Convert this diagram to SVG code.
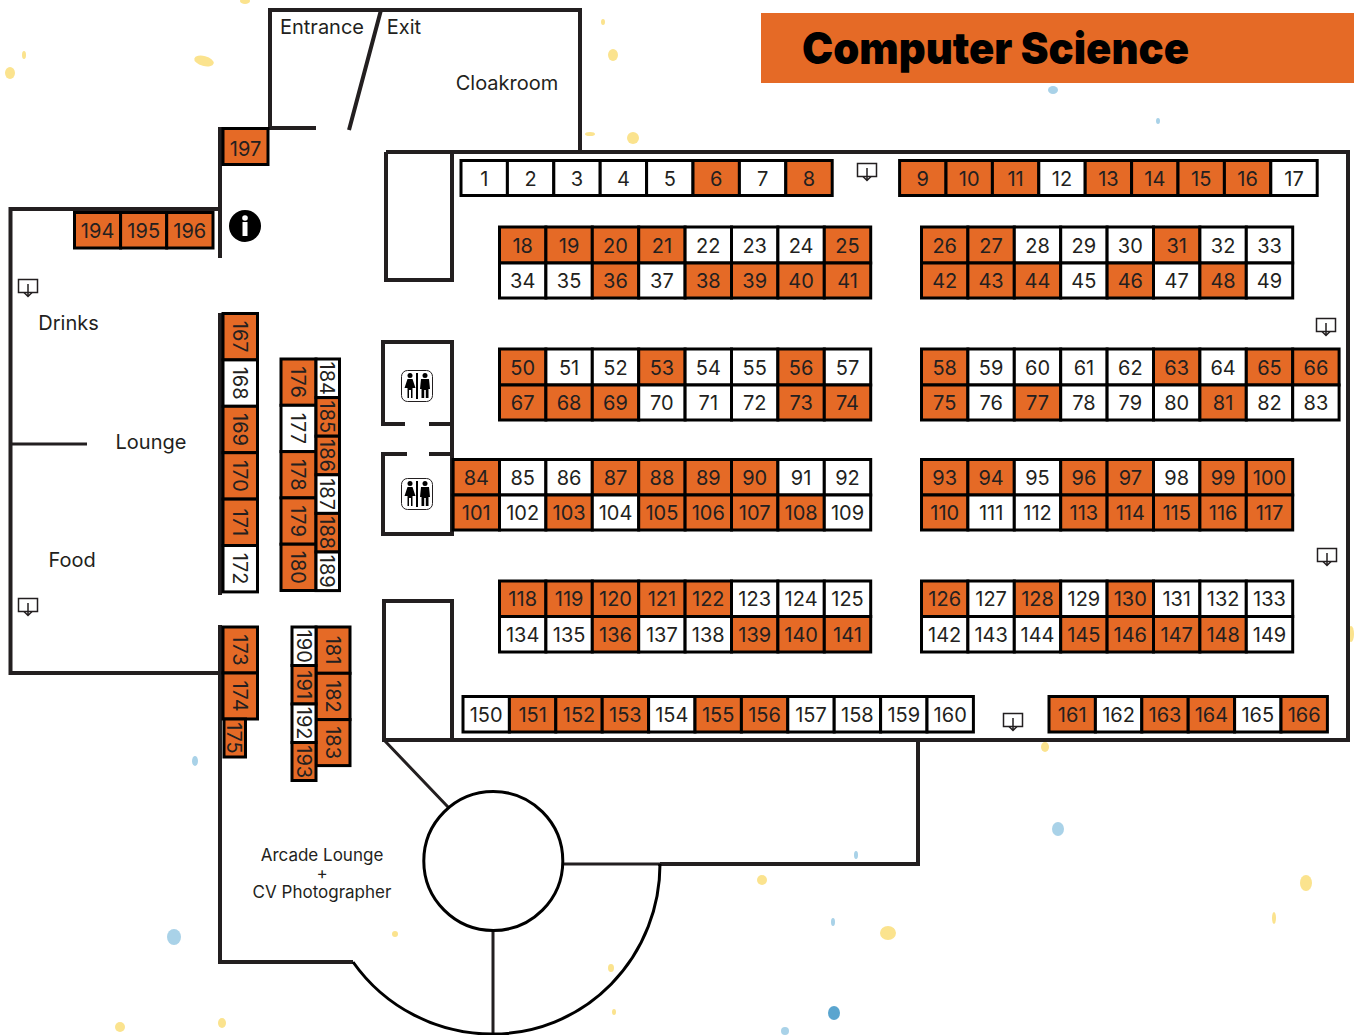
<svg xmlns="http://www.w3.org/2000/svg" xmlns:xlink="http://www.w3.org/1999/xlink" width="1354" height="1035" viewBox="0 0 1354 1035">
<style>
text{font-family:"Inter","Liberation Sans",sans-serif;fill:#231f20;text-anchor:middle;font-size:20px}
.o,.w{stroke:#000;stroke-width:3}
.o{fill:#e56a26}.w{fill:#fff}
.wall,.thin{fill:none;stroke:#231f20;stroke-width:4}
.thin{stroke-width:3}
.y{fill:#fbe38e}.b{fill:#a9d2e8}
.lab{font-size:20px}
.sm{font-size:17px}
.title{font-family:"Inter","Roboto",sans-serif;font-weight:900;font-size:44px;fill:#000}
.k{fill:#fff;stroke:#231f20;stroke-width:1.5}
</style>
<defs>
<g id="kiosk"><path class="k" d="M-9.500-7.500H9.500V5.500H-9.500Z"/><path d="M0-3V9M-4 5.500L0 9.500L4 5.500" fill="none" stroke="#231f20" stroke-width="1.500"/></g>
<g id="wc">
<rect x="-15.500" y="-15.500" width="31" height="31" rx="6" fill="#fff" stroke="#231f20"/>
<rect x="-1" y="-13" width="2" height="26" fill="#000"/>
<circle cx="-7" cy="-10.500" r="2.500"/><path d="M-9.500-7H-4.500L-1.500 2H-4.500V12H-6V4H-8V12H-9.500V2H-12.500Z"/>
<circle cx="8" cy="-10.500" r="2.500"/><path d="M4-7H12L13 3H11.500V12H8.800V4H7.200V12H4.500V3H3Z"/>
</g>
</defs>
<g id="confetti">
<ellipse class="y" cx="204" cy="61" rx="10" ry="5" transform="rotate(15 204 61)"/><ellipse class="y" cx="10" cy="73" rx="5" ry="6"/><ellipse class="y" cx="24" cy="55" rx="2" ry="4"/><ellipse class="y" cx="245" cy="1" rx="5" ry="3"/><ellipse class="y" cx="613" cy="55" rx="5" ry="6"/><ellipse class="y" cx="633" cy="138" rx="6" ry="6"/><ellipse class="y" cx="590" cy="134" rx="5" ry="2"/><ellipse class="y" cx="603" cy="22" rx="2" ry="3"/><ellipse class="b" cx="1053" cy="90" rx="5" ry="4"/><ellipse class="b" cx="1158" cy="121" rx="2" ry="3"/><ellipse class="b" cx="1058" cy="829" rx="6" ry="7"/><ellipse class="y" cx="1306" cy="883" rx="6" ry="8"/><ellipse class="y" cx="888" cy="933" rx="8" ry="7"/><ellipse class="y" cx="762" cy="880" rx="5" ry="5"/><ellipse class="b" cx="174" cy="937" rx="7" ry="8"/><ellipse class="b" cx="834" cy="1013" rx="6" ry="7" style="fill:#5aa5cf"/><ellipse class="y" cx="120" cy="1027" rx="5" ry="5"/><ellipse class="y" cx="222" cy="1023" rx="4" ry="5"/><ellipse class="y" cx="1045" cy="747" rx="4" ry="5"/><ellipse class="y" cx="1274" cy="918" rx="2" ry="6"/><ellipse class="b" cx="195" cy="761" rx="3" ry="5"/><ellipse class="b" cx="833" cy="922" rx="2" ry="4"/><ellipse class="y" cx="1351" cy="634" rx="3" ry="8"/><ellipse class="y" cx="614" cy="1012" rx="2" ry="3"/><ellipse class="b" cx="856" cy="855" rx="2" ry="4"/><ellipse class="b" cx="785" cy="1031" rx="4" ry="4"/><ellipse class="y" cx="395" cy="934" rx="3" ry="3"/><ellipse class="y" cx="611" cy="968" rx="3" ry="4"/>
</g>
<rect id="banner" x="761" y="13" width="593" height="70" fill="#e56a26"/>
<text class="title" x="995.500" y="64" textLength="387" lengthAdjust="spacingAndGlyphs">Computer Science</text>
<g id="walls">
<path class="wall" d="M220 127V258M316 128H270V10H580V152M381 10L349 130"/>
<path class="wall" d="M220 209H10.500V673H220M220 313V595M220 625V962H353"/>
<path class="wall" d="M386 152H1348V740H384V601H452V740M386 152V280H452V152"/>
<path class="wall" d="M405 424H383V342H452V534H383V454H407M429 424H452M429 454H452"/>
<path class="wall" d="M660 864V866M918 740V864H660"/>
<path class="thin" d="M10 444H87M384 740L448 807M563 864H660M493 931V1034"/>
<path d="M660 864A167 170 0 0 1 493 1034A170 170 0 0 1 353 962" fill="none" stroke="#000" stroke-width="3"/>
<circle cx="493.300" cy="861" r="69.500" fill="#fff" stroke="#000" stroke-width="3"/>
</g>
<g id="icons">
<g id="info"><circle cx="245" cy="226" r="16" fill="#000"/><circle cx="245" cy="218" r="2.800" fill="#fff"/><rect x="242.500" y="222" width="5" height="14" fill="#fff"/></g>
<g id="wc1"><use href="#wc" xlink:href="#wc" x="417" y="386"/></g>
<g id="wc2"><use href="#wc" xlink:href="#wc" x="417" y="494"/></g>
<g id="k1"><use href="#kiosk" xlink:href="#kiosk" x="28" y="287"/></g>
<g id="k2"><use href="#kiosk" xlink:href="#kiosk" x="867" y="171"/></g>
<g id="k3"><use href="#kiosk" xlink:href="#kiosk" x="1326" y="326"/></g>
<g id="k4"><use href="#kiosk" xlink:href="#kiosk" x="1327" y="556"/></g>
<g id="k5"><use href="#kiosk" xlink:href="#kiosk" x="28" y="606"/></g>
<g id="k6"><use href="#kiosk" xlink:href="#kiosk" x="1013" y="721"/></g>
</g>
<g id="labels">
<text class="lab" x="322" y="34">Entrance</text>
<text class="lab" x="404" y="34">Exit</text>
<text class="lab" x="507" y="90">Cloakroom</text>
<text class="lab" x="68.500" y="330">Drinks</text>
<text class="lab" x="151" y="449">Lounge</text>
<text class="lab" x="72" y="567">Food</text>
<text class="sm" x="322" y="861">Arcade Lounge</text>
<text class="sm" x="322" y="879">+</text>
<text class="sm" x="322" y="898">CV Photographer</text>
</g>
<g id="booths">
<g id="b1"><rect class="w" x="461" y="160.500" width="46.400" height="35"/><text x="484.200" y="185.500">1</text></g>
<g id="b2"><rect class="w" x="507.400" y="160.500" width="46.400" height="35"/><text x="530.600" y="185.500">2</text></g>
<g id="b3"><rect class="w" x="553.800" y="160.500" width="46.400" height="35"/><text x="577" y="185.500">3</text></g>
<g id="b4"><rect class="w" x="600.200" y="160.500" width="46.400" height="35"/><text x="623.400" y="185.500">4</text></g>
<g id="b5"><rect class="w" x="646.600" y="160.500" width="46.400" height="35"/><text x="669.800" y="185.500">5</text></g>
<g id="b6"><rect class="o" x="693" y="160.500" width="46.400" height="35"/><text x="716.200" y="185.500">6</text></g>
<g id="b7"><rect class="w" x="739.400" y="160.500" width="46.400" height="35"/><text x="762.600" y="185.500">7</text></g>
<g id="b8"><rect class="o" x="785.800" y="160.500" width="46.400" height="35"/><text x="809" y="185.500">8</text></g>
<g id="b9"><rect class="o" x="899.600" y="160.500" width="46.400" height="35"/><text x="922.800" y="185.500">9</text></g>
<g id="b10"><rect class="o" x="946" y="160.500" width="46.400" height="35"/><text x="969.200" y="185.500">10</text></g>
<g id="b11"><rect class="o" x="992.400" y="160.500" width="46.400" height="35"/><text x="1015.600" y="185.500">11</text></g>
<g id="b12"><rect class="w" x="1038.800" y="160.500" width="46.400" height="35"/><text x="1062" y="185.500">12</text></g>
<g id="b13"><rect class="o" x="1085.200" y="160.500" width="46.400" height="35"/><text x="1108.400" y="185.500">13</text></g>
<g id="b14"><rect class="o" x="1131.600" y="160.500" width="46.400" height="35"/><text x="1154.800" y="185.500">14</text></g>
<g id="b15"><rect class="o" x="1178" y="160.500" width="46.400" height="35"/><text x="1201.200" y="185.500">15</text></g>
<g id="b16"><rect class="o" x="1224.400" y="160.500" width="46.400" height="35"/><text x="1247.600" y="185.500">16</text></g>
<g id="b17"><rect class="w" x="1270.800" y="160.500" width="46.400" height="35"/><text x="1294" y="185.500">17</text></g>
<g id="b18"><rect class="o" x="499.500" y="227" width="46.400" height="36"/><text x="522.700" y="252.500">18</text></g>
<g id="b19"><rect class="o" x="545.900" y="227" width="46.400" height="36"/><text x="569.100" y="252.500">19</text></g>
<g id="b20"><rect class="o" x="592.300" y="227" width="46.400" height="36"/><text x="615.500" y="252.500">20</text></g>
<g id="b21"><rect class="o" x="638.700" y="227" width="46.400" height="36"/><text x="661.900" y="252.500">21</text></g>
<g id="b22"><rect class="w" x="685.100" y="227" width="46.400" height="36"/><text x="708.300" y="252.500">22</text></g>
<g id="b23"><rect class="w" x="731.500" y="227" width="46.400" height="36"/><text x="754.700" y="252.500">23</text></g>
<g id="b24"><rect class="w" x="777.900" y="227" width="46.400" height="36"/><text x="801.100" y="252.500">24</text></g>
<g id="b25"><rect class="o" x="824.300" y="227" width="46.400" height="36"/><text x="847.500" y="252.500">25</text></g>
<g id="b26"><rect class="o" x="921.500" y="227" width="46.400" height="36"/><text x="944.700" y="252.500">26</text></g>
<g id="b27"><rect class="o" x="967.900" y="227" width="46.400" height="36"/><text x="991.100" y="252.500">27</text></g>
<g id="b28"><rect class="w" x="1014.300" y="227" width="46.400" height="36"/><text x="1037.500" y="252.500">28</text></g>
<g id="b29"><rect class="w" x="1060.700" y="227" width="46.400" height="36"/><text x="1083.900" y="252.500">29</text></g>
<g id="b30"><rect class="w" x="1107.100" y="227" width="46.400" height="36"/><text x="1130.300" y="252.500">30</text></g>
<g id="b31"><rect class="o" x="1153.500" y="227" width="46.400" height="36"/><text x="1176.700" y="252.500">31</text></g>
<g id="b32"><rect class="w" x="1199.900" y="227" width="46.400" height="36"/><text x="1223.100" y="252.500">32</text></g>
<g id="b33"><rect class="w" x="1246.300" y="227" width="46.400" height="36"/><text x="1269.500" y="252.500">33</text></g>
<g id="b34"><rect class="w" x="499.500" y="263" width="46.400" height="35"/><text x="522.700" y="288">34</text></g>
<g id="b35"><rect class="w" x="545.900" y="263" width="46.400" height="35"/><text x="569.100" y="288">35</text></g>
<g id="b36"><rect class="o" x="592.300" y="263" width="46.400" height="35"/><text x="615.500" y="288">36</text></g>
<g id="b37"><rect class="w" x="638.700" y="263" width="46.400" height="35"/><text x="661.900" y="288">37</text></g>
<g id="b38"><rect class="o" x="685.100" y="263" width="46.400" height="35"/><text x="708.300" y="288">38</text></g>
<g id="b39"><rect class="o" x="731.500" y="263" width="46.400" height="35"/><text x="754.700" y="288">39</text></g>
<g id="b40"><rect class="o" x="777.900" y="263" width="46.400" height="35"/><text x="801.100" y="288">40</text></g>
<g id="b41"><rect class="o" x="824.300" y="263" width="46.400" height="35"/><text x="847.500" y="288">41</text></g>
<g id="b42"><rect class="o" x="921.500" y="263" width="46.400" height="35"/><text x="944.700" y="288">42</text></g>
<g id="b43"><rect class="o" x="967.900" y="263" width="46.400" height="35"/><text x="991.100" y="288">43</text></g>
<g id="b44"><rect class="o" x="1014.300" y="263" width="46.400" height="35"/><text x="1037.500" y="288">44</text></g>
<g id="b45"><rect class="w" x="1060.700" y="263" width="46.400" height="35"/><text x="1083.900" y="288">45</text></g>
<g id="b46"><rect class="o" x="1107.100" y="263" width="46.400" height="35"/><text x="1130.300" y="288">46</text></g>
<g id="b47"><rect class="w" x="1153.500" y="263" width="46.400" height="35"/><text x="1176.700" y="288">47</text></g>
<g id="b48"><rect class="o" x="1199.900" y="263" width="46.400" height="35"/><text x="1223.100" y="288">48</text></g>
<g id="b49"><rect class="w" x="1246.300" y="263" width="46.400" height="35"/><text x="1269.500" y="288">49</text></g>
<g id="b50"><rect class="o" x="499.500" y="349" width="46.400" height="36"/><text x="522.700" y="374.500">50</text></g>
<g id="b51"><rect class="w" x="545.900" y="349" width="46.400" height="36"/><text x="569.100" y="374.500">51</text></g>
<g id="b52"><rect class="w" x="592.300" y="349" width="46.400" height="36"/><text x="615.500" y="374.500">52</text></g>
<g id="b53"><rect class="o" x="638.700" y="349" width="46.400" height="36"/><text x="661.900" y="374.500">53</text></g>
<g id="b54"><rect class="w" x="685.100" y="349" width="46.400" height="36"/><text x="708.300" y="374.500">54</text></g>
<g id="b55"><rect class="w" x="731.500" y="349" width="46.400" height="36"/><text x="754.700" y="374.500">55</text></g>
<g id="b56"><rect class="o" x="777.900" y="349" width="46.400" height="36"/><text x="801.100" y="374.500">56</text></g>
<g id="b57"><rect class="w" x="824.300" y="349" width="46.400" height="36"/><text x="847.500" y="374.500">57</text></g>
<g id="b58"><rect class="o" x="921.500" y="349" width="46.400" height="36"/><text x="944.700" y="374.500">58</text></g>
<g id="b59"><rect class="w" x="967.900" y="349" width="46.400" height="36"/><text x="991.100" y="374.500">59</text></g>
<g id="b60"><rect class="w" x="1014.300" y="349" width="46.400" height="36"/><text x="1037.500" y="374.500">60</text></g>
<g id="b61"><rect class="w" x="1060.700" y="349" width="46.400" height="36"/><text x="1083.900" y="374.500">61</text></g>
<g id="b62"><rect class="w" x="1107.100" y="349" width="46.400" height="36"/><text x="1130.300" y="374.500">62</text></g>
<g id="b63"><rect class="o" x="1153.500" y="349" width="46.400" height="36"/><text x="1176.700" y="374.500">63</text></g>
<g id="b64"><rect class="w" x="1199.900" y="349" width="46.400" height="36"/><text x="1223.100" y="374.500">64</text></g>
<g id="b65"><rect class="o" x="1246.300" y="349" width="46.400" height="36"/><text x="1269.500" y="374.500">65</text></g>
<g id="b66"><rect class="o" x="1292.700" y="349" width="46.400" height="36"/><text x="1315.900" y="374.500">66</text></g>
<g id="b67"><rect class="o" x="499.500" y="385" width="46.400" height="35"/><text x="522.700" y="410">67</text></g>
<g id="b68"><rect class="o" x="545.900" y="385" width="46.400" height="35"/><text x="569.100" y="410">68</text></g>
<g id="b69"><rect class="o" x="592.300" y="385" width="46.400" height="35"/><text x="615.500" y="410">69</text></g>
<g id="b70"><rect class="w" x="638.700" y="385" width="46.400" height="35"/><text x="661.900" y="410">70</text></g>
<g id="b71"><rect class="w" x="685.100" y="385" width="46.400" height="35"/><text x="708.300" y="410">71</text></g>
<g id="b72"><rect class="w" x="731.500" y="385" width="46.400" height="35"/><text x="754.700" y="410">72</text></g>
<g id="b73"><rect class="o" x="777.900" y="385" width="46.400" height="35"/><text x="801.100" y="410">73</text></g>
<g id="b74"><rect class="o" x="824.300" y="385" width="46.400" height="35"/><text x="847.500" y="410">74</text></g>
<g id="b75"><rect class="o" x="921.500" y="385" width="46.400" height="35"/><text x="944.700" y="410">75</text></g>
<g id="b76"><rect class="w" x="967.900" y="385" width="46.400" height="35"/><text x="991.100" y="410">76</text></g>
<g id="b77"><rect class="o" x="1014.300" y="385" width="46.400" height="35"/><text x="1037.500" y="410">77</text></g>
<g id="b78"><rect class="w" x="1060.700" y="385" width="46.400" height="35"/><text x="1083.900" y="410">78</text></g>
<g id="b79"><rect class="w" x="1107.100" y="385" width="46.400" height="35"/><text x="1130.300" y="410">79</text></g>
<g id="b80"><rect class="w" x="1153.500" y="385" width="46.400" height="35"/><text x="1176.700" y="410">80</text></g>
<g id="b81"><rect class="o" x="1199.900" y="385" width="46.400" height="35"/><text x="1223.100" y="410">81</text></g>
<g id="b82"><rect class="w" x="1246.300" y="385" width="46.400" height="35"/><text x="1269.500" y="410">82</text></g>
<g id="b83"><rect class="w" x="1292.700" y="385" width="46.400" height="35"/><text x="1315.900" y="410">83</text></g>
<g id="b84"><rect class="o" x="453.100" y="459.500" width="46.400" height="35.500"/><text x="476.300" y="484.500">84</text></g>
<g id="b85"><rect class="w" x="499.500" y="459.500" width="46.400" height="35.500"/><text x="522.700" y="484.500">85</text></g>
<g id="b86"><rect class="w" x="545.900" y="459.500" width="46.400" height="35.500"/><text x="569.100" y="484.500">86</text></g>
<g id="b87"><rect class="o" x="592.300" y="459.500" width="46.400" height="35.500"/><text x="615.500" y="484.500">87</text></g>
<g id="b88"><rect class="o" x="638.700" y="459.500" width="46.400" height="35.500"/><text x="661.900" y="484.500">88</text></g>
<g id="b89"><rect class="o" x="685.100" y="459.500" width="46.400" height="35.500"/><text x="708.300" y="484.500">89</text></g>
<g id="b90"><rect class="o" x="731.500" y="459.500" width="46.400" height="35.500"/><text x="754.700" y="484.500">90</text></g>
<g id="b91"><rect class="w" x="777.900" y="459.500" width="46.400" height="35.500"/><text x="801.100" y="484.500">91</text></g>
<g id="b92"><rect class="w" x="824.300" y="459.500" width="46.400" height="35.500"/><text x="847.500" y="484.500">92</text></g>
<g id="b93"><rect class="o" x="921.500" y="459.500" width="46.400" height="35.500"/><text x="944.700" y="484.500">93</text></g>
<g id="b94"><rect class="o" x="967.900" y="459.500" width="46.400" height="35.500"/><text x="991.100" y="484.500">94</text></g>
<g id="b95"><rect class="w" x="1014.300" y="459.500" width="46.400" height="35.500"/><text x="1037.500" y="484.500">95</text></g>
<g id="b96"><rect class="o" x="1060.700" y="459.500" width="46.400" height="35.500"/><text x="1083.900" y="484.500">96</text></g>
<g id="b97"><rect class="o" x="1107.100" y="459.500" width="46.400" height="35.500"/><text x="1130.300" y="484.500">97</text></g>
<g id="b98"><rect class="w" x="1153.500" y="459.500" width="46.400" height="35.500"/><text x="1176.700" y="484.500">98</text></g>
<g id="b99"><rect class="o" x="1199.900" y="459.500" width="46.400" height="35.500"/><text x="1223.100" y="484.500">99</text></g>
<g id="b100"><rect class="o" x="1246.300" y="459.500" width="46.400" height="35.500"/><text x="1269.500" y="484.500">100</text></g>
<g id="b101"><rect class="o" x="453.100" y="495" width="46.400" height="35"/><text x="476.300" y="520">101</text></g>
<g id="b102"><rect class="w" x="499.500" y="495" width="46.400" height="35"/><text x="522.700" y="520">102</text></g>
<g id="b103"><rect class="o" x="545.900" y="495" width="46.400" height="35"/><text x="569.100" y="520">103</text></g>
<g id="b104"><rect class="w" x="592.300" y="495" width="46.400" height="35"/><text x="615.500" y="520">104</text></g>
<g id="b105"><rect class="o" x="638.700" y="495" width="46.400" height="35"/><text x="661.900" y="520">105</text></g>
<g id="b106"><rect class="o" x="685.100" y="495" width="46.400" height="35"/><text x="708.300" y="520">106</text></g>
<g id="b107"><rect class="o" x="731.500" y="495" width="46.400" height="35"/><text x="754.700" y="520">107</text></g>
<g id="b108"><rect class="o" x="777.900" y="495" width="46.400" height="35"/><text x="801.100" y="520">108</text></g>
<g id="b109"><rect class="w" x="824.300" y="495" width="46.400" height="35"/><text x="847.500" y="520">109</text></g>
<g id="b110"><rect class="o" x="921.500" y="495" width="46.400" height="35"/><text x="944.700" y="520">110</text></g>
<g id="b111"><rect class="w" x="967.900" y="495" width="46.400" height="35"/><text x="991.100" y="520">111</text></g>
<g id="b112"><rect class="w" x="1014.300" y="495" width="46.400" height="35"/><text x="1037.500" y="520">112</text></g>
<g id="b113"><rect class="o" x="1060.700" y="495" width="46.400" height="35"/><text x="1083.900" y="520">113</text></g>
<g id="b114"><rect class="o" x="1107.100" y="495" width="46.400" height="35"/><text x="1130.300" y="520">114</text></g>
<g id="b115"><rect class="o" x="1153.500" y="495" width="46.400" height="35"/><text x="1176.700" y="520">115</text></g>
<g id="b116"><rect class="o" x="1199.900" y="495" width="46.400" height="35"/><text x="1223.100" y="520">116</text></g>
<g id="b117"><rect class="o" x="1246.300" y="495" width="46.400" height="35"/><text x="1269.500" y="520">117</text></g>
<g id="b118"><rect class="o" x="499.500" y="581" width="46.400" height="35.500"/><text x="522.700" y="606">118</text></g>
<g id="b119"><rect class="o" x="545.900" y="581" width="46.400" height="35.500"/><text x="569.100" y="606">119</text></g>
<g id="b120"><rect class="o" x="592.300" y="581" width="46.400" height="35.500"/><text x="615.500" y="606">120</text></g>
<g id="b121"><rect class="o" x="638.700" y="581" width="46.400" height="35.500"/><text x="661.900" y="606">121</text></g>
<g id="b122"><rect class="o" x="685.100" y="581" width="46.400" height="35.500"/><text x="708.300" y="606">122</text></g>
<g id="b123"><rect class="w" x="731.500" y="581" width="46.400" height="35.500"/><text x="754.700" y="606">123</text></g>
<g id="b124"><rect class="w" x="777.900" y="581" width="46.400" height="35.500"/><text x="801.100" y="606">124</text></g>
<g id="b125"><rect class="w" x="824.300" y="581" width="46.400" height="35.500"/><text x="847.500" y="606">125</text></g>
<g id="b126"><rect class="o" x="921.500" y="581" width="46.400" height="35.500"/><text x="944.700" y="606">126</text></g>
<g id="b127"><rect class="w" x="967.900" y="581" width="46.400" height="35.500"/><text x="991.100" y="606">127</text></g>
<g id="b128"><rect class="o" x="1014.300" y="581" width="46.400" height="35.500"/><text x="1037.500" y="606">128</text></g>
<g id="b129"><rect class="w" x="1060.700" y="581" width="46.400" height="35.500"/><text x="1083.900" y="606">129</text></g>
<g id="b130"><rect class="o" x="1107.100" y="581" width="46.400" height="35.500"/><text x="1130.300" y="606">130</text></g>
<g id="b131"><rect class="w" x="1153.500" y="581" width="46.400" height="35.500"/><text x="1176.700" y="606">131</text></g>
<g id="b132"><rect class="w" x="1199.900" y="581" width="46.400" height="35.500"/><text x="1223.100" y="606">132</text></g>
<g id="b133"><rect class="w" x="1246.300" y="581" width="46.400" height="35.500"/><text x="1269.500" y="606">133</text></g>
<g id="b134"><rect class="w" x="499.500" y="616.500" width="46.400" height="35.500"/><text x="522.700" y="641.500">134</text></g>
<g id="b135"><rect class="w" x="545.900" y="616.500" width="46.400" height="35.500"/><text x="569.100" y="641.500">135</text></g>
<g id="b136"><rect class="o" x="592.300" y="616.500" width="46.400" height="35.500"/><text x="615.500" y="641.500">136</text></g>
<g id="b137"><rect class="w" x="638.700" y="616.500" width="46.400" height="35.500"/><text x="661.900" y="641.500">137</text></g>
<g id="b138"><rect class="w" x="685.100" y="616.500" width="46.400" height="35.500"/><text x="708.300" y="641.500">138</text></g>
<g id="b139"><rect class="o" x="731.500" y="616.500" width="46.400" height="35.500"/><text x="754.700" y="641.500">139</text></g>
<g id="b140"><rect class="o" x="777.900" y="616.500" width="46.400" height="35.500"/><text x="801.100" y="641.500">140</text></g>
<g id="b141"><rect class="o" x="824.300" y="616.500" width="46.400" height="35.500"/><text x="847.500" y="641.500">141</text></g>
<g id="b142"><rect class="w" x="921.500" y="616.500" width="46.400" height="35.500"/><text x="944.700" y="641.500">142</text></g>
<g id="b143"><rect class="w" x="967.900" y="616.500" width="46.400" height="35.500"/><text x="991.100" y="641.500">143</text></g>
<g id="b144"><rect class="w" x="1014.300" y="616.500" width="46.400" height="35.500"/><text x="1037.500" y="641.500">144</text></g>
<g id="b145"><rect class="o" x="1060.700" y="616.500" width="46.400" height="35.500"/><text x="1083.900" y="641.500">145</text></g>
<g id="b146"><rect class="o" x="1107.100" y="616.500" width="46.400" height="35.500"/><text x="1130.300" y="641.500">146</text></g>
<g id="b147"><rect class="o" x="1153.500" y="616.500" width="46.400" height="35.500"/><text x="1176.700" y="641.500">147</text></g>
<g id="b148"><rect class="o" x="1199.900" y="616.500" width="46.400" height="35.500"/><text x="1223.100" y="641.500">148</text></g>
<g id="b149"><rect class="w" x="1246.300" y="616.500" width="46.400" height="35.500"/><text x="1269.500" y="641.500">149</text></g>
<g id="b150"><rect class="w" x="463" y="696.500" width="46.400" height="35.500"/><text x="486.200" y="721.500">150</text></g>
<g id="b151"><rect class="o" x="509.400" y="696.500" width="46.400" height="35.500"/><text x="532.600" y="721.500">151</text></g>
<g id="b152"><rect class="o" x="555.800" y="696.500" width="46.400" height="35.500"/><text x="579" y="721.500">152</text></g>
<g id="b153"><rect class="o" x="602.200" y="696.500" width="46.400" height="35.500"/><text x="625.400" y="721.500">153</text></g>
<g id="b154"><rect class="w" x="648.600" y="696.500" width="46.400" height="35.500"/><text x="671.800" y="721.500">154</text></g>
<g id="b155"><rect class="o" x="695" y="696.500" width="46.400" height="35.500"/><text x="718.200" y="721.500">155</text></g>
<g id="b156"><rect class="o" x="741.400" y="696.500" width="46.400" height="35.500"/><text x="764.600" y="721.500">156</text></g>
<g id="b157"><rect class="w" x="787.800" y="696.500" width="46.400" height="35.500"/><text x="811" y="721.500">157</text></g>
<g id="b158"><rect class="w" x="834.200" y="696.500" width="46.400" height="35.500"/><text x="857.400" y="721.500">158</text></g>
<g id="b159"><rect class="w" x="880.600" y="696.500" width="46.400" height="35.500"/><text x="903.800" y="721.500">159</text></g>
<g id="b160"><rect class="w" x="927" y="696.500" width="46.400" height="35.500"/><text x="950.200" y="721.500">160</text></g>
<g id="b161"><rect class="o" x="1049" y="696.500" width="46.400" height="35.500"/><text x="1072.200" y="721.500">161</text></g>
<g id="b162"><rect class="w" x="1095.400" y="696.500" width="46.400" height="35.500"/><text x="1118.600" y="721.500">162</text></g>
<g id="b163"><rect class="o" x="1141.800" y="696.500" width="46.400" height="35.500"/><text x="1165" y="721.500">163</text></g>
<g id="b164"><rect class="o" x="1188.200" y="696.500" width="46.400" height="35.500"/><text x="1211.400" y="721.500">164</text></g>
<g id="b165"><rect class="w" x="1234.600" y="696.500" width="46.400" height="35.500"/><text x="1257.800" y="721.500">165</text></g>
<g id="b166"><rect class="o" x="1281" y="696.500" width="46.400" height="35.500"/><text x="1304.200" y="721.500">166</text></g>
<g id="b167"><rect class="o" x="223" y="313.500" width="34.500" height="46.400"/><text transform="rotate(90 240.200 336.700)" x="240.200" y="344.200">167</text></g>
<g id="b168"><rect class="w" x="223" y="359.900" width="34.500" height="46.400"/><text transform="rotate(90 240.200 383.100)" x="240.200" y="390.600">168</text></g>
<g id="b169"><rect class="o" x="223" y="406.300" width="34.500" height="46.400"/><text transform="rotate(90 240.200 429.500)" x="240.200" y="437">169</text></g>
<g id="b170"><rect class="o" x="223" y="452.700" width="34.500" height="46.400"/><text transform="rotate(90 240.200 475.900)" x="240.200" y="483.400">170</text></g>
<g id="b171"><rect class="o" x="223" y="499.100" width="34.500" height="46.400"/><text transform="rotate(90 240.200 522.300)" x="240.200" y="529.800">171</text></g>
<g id="b172"><rect class="w" x="223" y="545.500" width="34.500" height="46.400"/><text transform="rotate(90 240.200 568.700)" x="240.200" y="576.200">172</text></g>
<g id="b173"><rect class="o" x="223" y="627" width="34.500" height="46"/><text transform="rotate(90 240.200 650)" x="240.200" y="657.500">173</text></g>
<g id="b174"><rect class="o" x="223" y="673" width="34.500" height="46"/><text transform="rotate(90 240.200 696)" x="240.200" y="703.500">174</text></g>
<g id="b175"><rect class="o" x="224" y="719" width="21.500" height="38"/><text transform="rotate(90 234.700 738)" x="234.700" y="745.500">175</text></g>
<g id="b176"><rect class="o" x="281" y="359" width="35" height="46.300"/><text transform="rotate(90 298.500 382.100)" x="298.500" y="389.600">176</text></g>
<g id="b177"><rect class="w" x="281" y="405.300" width="35" height="46.300"/><text transform="rotate(90 298.500 428.400)" x="298.500" y="435.900">177</text></g>
<g id="b178"><rect class="o" x="281" y="451.600" width="35" height="46.300"/><text transform="rotate(90 298.500 474.800)" x="298.500" y="482.300">178</text></g>
<g id="b179"><rect class="o" x="281" y="497.900" width="35" height="46.300"/><text transform="rotate(90 298.500 521)" x="298.500" y="528.500">179</text></g>
<g id="b180"><rect class="o" x="281" y="544.200" width="35" height="46.300"/><text transform="rotate(90 298.500 567.400)" x="298.500" y="574.900">180</text></g>
<g id="b181"><rect class="o" x="316" y="627" width="34" height="46.300"/><text transform="rotate(90 333 650)" x="333" y="657.500">181</text></g>
<g id="b182"><rect class="o" x="316" y="673.300" width="34" height="46.300"/><text transform="rotate(90 333 696.400)" x="333" y="703.900">182</text></g>
<g id="b183"><rect class="o" x="316" y="719.600" width="34" height="46"/><text transform="rotate(90 333 742.600)" x="333" y="750.100">183</text></g>
<g id="b184"><rect class="w" x="316" y="359" width="23.500" height="38.600"/><text transform="rotate(90 327.700 378.300)" x="327.700" y="385.800">184</text></g>
<g id="b185"><rect class="o" x="316" y="397.600" width="23.500" height="38.600"/><text transform="rotate(90 327.700 416.900)" x="327.700" y="424.400">185</text></g>
<g id="b186"><rect class="o" x="316" y="436.200" width="23.500" height="38.600"/><text transform="rotate(90 327.700 455.500)" x="327.700" y="463">186</text></g>
<g id="b187"><rect class="w" x="316" y="474.800" width="23.500" height="38.600"/><text transform="rotate(90 327.700 494.100)" x="327.700" y="501.600">187</text></g>
<g id="b188"><rect class="o" x="316" y="513.400" width="23.500" height="38.600"/><text transform="rotate(90 327.700 532.700)" x="327.700" y="540.200">188</text></g>
<g id="b189"><rect class="w" x="316" y="552" width="23.500" height="38.600"/><text transform="rotate(90 327.700 571.300)" x="327.700" y="578.800">189</text></g>
<g id="b190"><rect class="w" x="292" y="627" width="24" height="38.500"/><text transform="rotate(90 304 646.200)" x="304" y="653.700">190</text></g>
<g id="b191"><rect class="o" x="292" y="665.500" width="24" height="38.500"/><text transform="rotate(90 304 684.700)" x="304" y="692.200">191</text></g>
<g id="b192"><rect class="w" x="292" y="704" width="24" height="38.500"/><text transform="rotate(90 304 723.200)" x="304" y="730.700">192</text></g>
<g id="b193"><rect class="o" x="292" y="742.500" width="24" height="38"/><text transform="rotate(90 304 761.700)" x="304" y="769.200">193</text></g>
<g id="b194"><rect class="o" x="74.500" y="212.500" width="46.100" height="35.500"/><text x="97.600" y="238">194</text></g>
<g id="b195"><rect class="o" x="120.600" y="212.500" width="46.100" height="35.500"/><text x="143.700" y="238">195</text></g>
<g id="b196"><rect class="o" x="166.700" y="212.500" width="46.300" height="35.500"/><text x="189.800" y="238">196</text></g>
<g id="b197"><rect class="o" x="223" y="128.500" width="45" height="36"/><text x="245.500" y="155.500">197</text></g>
</g>
</svg>
